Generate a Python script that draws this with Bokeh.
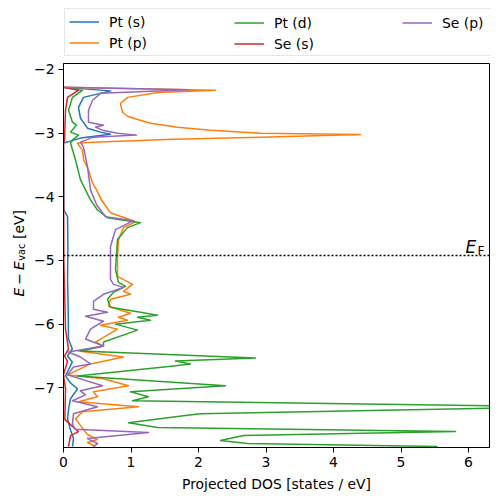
import math
from bokeh.plotting import figure
from bokeh.layouts import column, row
from bokeh.models import Range1d, FixedTicker, Legend, LegendItem, Span, Label
from bokeh.embed import file_html
from bokeh.resources import INLINE

# ---------------- data (energy in eV, projected DOS in states/eV) ----------------
E_F = -4.92

E_pt_s = [-2.281, -2.336, -2.438, -2.594, -2.766, -2.922, -2.984, -3.016, -3.078, -3.125,
          -3.156, -4.203, -4.313, -4.8, -5.3, -5.8, -6.234, -6.391, -6.5, -6.594,
          -6.813, -6.92, -7.016, -7.172, -7.3, -7.484, -7.65, -7.797, -7.922]
D_pt_s = [0.0, 0.70, 0.296, 0.222, 0.252, 0.356, 0.548, 0.696, 0.252, 0.104,
          0.0, 0.005, 0.06, 0.065, 0.06, 0.07, 0.074, 0.13, 0.06, 0.13,
          0.03, 0.1, 0.207, 0.104, 0.08, 0.06, 0.1, 0.148, 0.133]

E_pt_p = [-2.281, -2.328, -2.36, -2.438, -2.531, -2.609, -2.672, -2.734, -2.766, -2.844,
          -2.906, -2.953, -3.0, -3.023, -3.063, -3.094, -3.141, -3.156, -3.266, -3.422,
          -3.578, -3.781, -3.891, -4.047, -4.25, -4.391, -4.484, -4.672, -4.938, -5.25,
          -5.375, -5.484, -5.531, -5.609, -5.719, -5.828, -5.891, -5.938, -6.016, -6.078,
          -6.281, -6.344, -6.422, -6.516, -6.625, -6.797, -6.859, -6.969, -7.063, -7.141,
          -7.219, -7.297, -7.375, -7.484, -7.594, -7.734, -7.813, -7.859, -7.922]
D_pt_p = [0.0, 2.25, 1.4, 0.95, 0.844, 0.859, 0.874, 0.948, 1.037, 1.289,
          1.689, 2.178, 2.919, 4.4, 2.919, 1.63, 0.444, 0.207, 0.28, 0.3,
          0.37, 0.43, 0.49, 0.56, 0.696, 1.067, 0.889, 0.815, 0.8, 0.8,
          1.022, 0.889, 0.993, 0.696, 0.667, 0.993, 0.815, 0.948, 0.548, 0.8,
          0.474, 0.593, 0.222, 0.889, 0.4, 0.06, 0.593, 0.963, 0.444, 0.504,
          0.222, 1.111, 0.281, 0.178, 0.252, 0.356, 0.504, 0.356, 0.474]

E_pt_d = [-2.281, -2.328, -2.438, -2.641, -2.828, -2.875, -2.984, -3.031, -3.109, -3.156,
          -3.422, -3.734, -4.047, -4.203, -4.328, -4.406, -4.484, -4.672, -5.141, -5.344,
          -5.406, -5.5, -5.609, -5.734, -5.813, -5.859, -5.891, -5.938, -6.0, -6.094,
          -6.281, -6.344, -6.422, -6.531, -6.578, -6.625, -6.656, -6.813, -6.969, -7.063,
          -7.141, -7.203, -7.297, -7.406, -7.438, -7.547, -7.625, -7.688, -7.75, -7.828,
          -7.875, -7.922]
D_pt_d = [0.0, 0.28, 0.133, 0.074, 0.133, 0.19, 0.104, 0.222, 0.133, 0.104,
          0.178, 0.252, 0.4, 0.5, 0.652, 1.141, 0.948, 0.8, 0.77, 0.815,
          0.919, 0.741, 0.652, 0.696, 1.141, 1.393, 1.096, 1.289, 0.77, 1.096,
          0.593, 0.593, 0.252, 2.844, 1.659, 1.881, 1.63, 0.207, 2.4, 0.993,
          1.259, 1.022, 7.5, 2.03, 1.778, 0.963, 1.393, 5.807, 2.667, 2.326,
          2.726, 5.541]

E_se_s = [-2.281, -2.328, -2.438, -2.641, -3.109, -3.156, -5.0, -6.078, -6.391, -6.5,
          -6.58, -6.797, -7.016, -7.5, -7.688, -7.75, -7.922]
D_se_s = [0.0, 0.22, 0.06, 0.03, 0.015, 0.0, 0.005, 0.03, 0.074, 0.015,
          0.06, 0.0, 0.03, 0.02, 0.222, 0.104, 0.074]

E_se_p = [-2.281, -2.32, -2.375, -2.484, -2.641, -2.828, -2.875, -2.906, -2.953, -3.0,
          -3.031, -3.063, -3.141, -3.219, -3.531, -3.891, -4.125, -4.313, -4.375, -4.516,
          -4.781, -5.297, -5.375, -5.422, -5.531, -5.641, -5.766, -5.813, -5.875, -5.953,
          -6.078, -6.234, -6.344, -6.438, -6.516, -6.625, -6.672, -6.797, -6.969, -7.047,
          -7.11, -7.203, -7.297, -7.406, -7.563, -7.65, -7.703, -7.797, -7.875, -7.922]
D_se_p = [0.0, 1.852, 0.55, 0.43, 0.37, 0.37, 0.593, 0.474, 0.578, 0.8,
          1.081, 0.444, 0.252, 0.296, 0.356, 0.4, 0.49, 0.622, 1.037, 0.77,
          0.696, 0.696, 0.741, 0.889, 0.593, 0.444, 0.444, 0.652, 0.326, 0.593,
          0.4, 0.326, 0.593, 0.074, 0.25, 0.4, 0.148, 0.06, 0.578, 0.25,
          0.326, 0.133, 0.504, 0.148, 0.133, 0.17, 1.259, 0.356, 0.504, 0.44]

names = ["Pt (s)", "Pt (p)", "Pt (d)", "Se (s)", "Se (p)"]
energies = [E_pt_s, E_pt_p, E_pt_d, E_se_s, E_se_p]
dos = [D_pt_s, D_pt_p, D_pt_d, D_se_s, D_se_p]
colors = ["#1f77b4", "#ff7f0e", "#2ca02c", "#d62728", "#9467bd"]

x_ticks = [0, 1, 2, 3, 4, 5, 6]
y_ticks = [-7, -6, -5, -4, -3, -2]
y_tick_labels = {t: "\u2212" + str(-t) for t in y_ticks}

FONT = "DejaVu Sans"
FS = "13.9px"

LEG_H = 60      # height of legend strip
YL_W = 30       # width of y-label strip
MAIN_W = 460
MAIN_H = 434


def bare(w, h):
    f = figure(width=w, height=h, output_backend="svg", toolbar_location=None,
               x_axis_type=None, y_axis_type=None, x_range=Range1d(0, 1), y_range=Range1d(0, 1),
               min_border=0, min_border_left=0, min_border_right=0, min_border_top=0,
               min_border_bottom=0, background_fill_color="white", border_fill_color="white")
    f.outline_line_color = None
    f.xgrid.visible = False
    f.ygrid.visible = False
    return f


# ---------------- main figure ----------------
p = figure(width=MAIN_W, height=MAIN_H, output_backend="svg", toolbar_location=None,
           x_range=Range1d(0, 6.311), y_range=Range1d(-7.9375, -1.906),
           min_border_left=33, min_border_right=1, min_border_top=3, min_border_bottom=45,
           background_fill_color="white", border_fill_color="white")
p.xgrid.visible = False
p.ygrid.visible = False
p.outline_line_color = "black"
p.outline_line_width = 1
p.outline_line_alpha = 1

for ax in (p.xaxis[0], p.yaxis[0]):
    ax.axis_line_color = "black"
    ax.major_tick_line_color = "black"
    ax.major_tick_out = 5
    ax.major_tick_in = 0
    ax.minor_tick_line_color = None
    ax.major_label_text_font = FONT
    ax.major_label_text_font_size = FS
    ax.major_label_text_color = "black"
    ax.major_label_standoff = 4

p.xaxis.ticker = FixedTicker(ticks=x_ticks)
p.yaxis.ticker = FixedTicker(ticks=y_ticks)
p.yaxis.major_label_overrides = y_tick_labels
p.xaxis.axis_label = "Projected DOS [states / eV]"
p.xaxis.axis_label_text_font = FONT
p.xaxis.axis_label_text_font_size = FS
p.xaxis.axis_label_text_font_style = "normal"
p.xaxis.axis_label_text_color = "black"
p.xaxis.axis_label_standoff = 6

for E, D, c in zip(energies, dos, colors):
    p.line(D, E, line_color=c, line_width=1.5, line_join="round")

p.add_layout(Span(location=E_F, dimension="width", line_color="black",
                  line_width=1.5, line_dash="2 2"))

# E_F label
p.add_layout(Label(x=5.955, y=-4.79, text="E", text_font=FONT, text_font_style="italic",
                   text_font_size="17px", text_color="black", text_baseline="alphabetic"))
p.add_layout(Label(x=6.133, y=-4.85, text="F", text_font=FONT,
                   text_font_size="12px", text_color="black", text_baseline="alphabetic"))

# ---------------- y-axis label strip ----------------
yl = bare(YL_W, MAIN_H)
ang = math.pi / 2
y0 = 151
ylab = [("E", 18, y0, "italic", FS), ("\u2212", 18, y0 + 11.8, "normal", FS),
        ("E", 18, y0 + 26.5, "italic", FS), ("vac", 21, y0 + 35.8, "normal", "9.7px"),
        ("[eV]", 18, y0 + 57.5, "normal", FS)]
for t, xx, yy, st, fs in ylab:
    yl.add_layout(Label(x=xx, y=yy, x_units="screen", y_units="screen", text=t, angle=ang,
                        text_font=FONT, text_font_style=st, text_font_size=fs,
                        text_color="black", text_baseline="alphabetic", text_align="left"))

# ---------------- legend strip ----------------
# the series are drawn here too, but fall outside this strip's range (only legend glyphs show)
lf = bare(YL_W + MAIN_W, LEG_H)
lrends = [lf.line(D, E, line_color=c, line_width=1.5) for E, D, c in zip(energies, dos, colors)]
cols = [[0, 1], [2, 3], [4]]
xs = [64, 230, 398]
ys = [4, 4, 25]
for k, (idx, lx, ly) in enumerate(zip(cols, xs, ys)):
    leg = Legend(items=[LegendItem(label=names[i], renderers=[lrends[i]]) for i in idx],
                 location=(lx, ly), padding=4, spacing=4, glyph_width=30, glyph_height=17,
                 label_height=17, label_standoff=10, label_text_font=FONT,
                 label_text_font_size=FS, label_text_color="black", margin=0)
    if k == 0:
        leg.label_width = 377
        leg.border_line_color = "#cccccc"
        leg.border_line_width = 1
        leg.background_fill_color = "white"
        leg.background_fill_alpha = 0.8
    else:
        leg.border_line_alpha = 0
        leg.background_fill_alpha = 0
    lf.add_layout(leg)

layout = column(lf, row(yl, p, spacing=0), spacing=0)

open("out.html", "w").write(file_html(layout, INLINE))
